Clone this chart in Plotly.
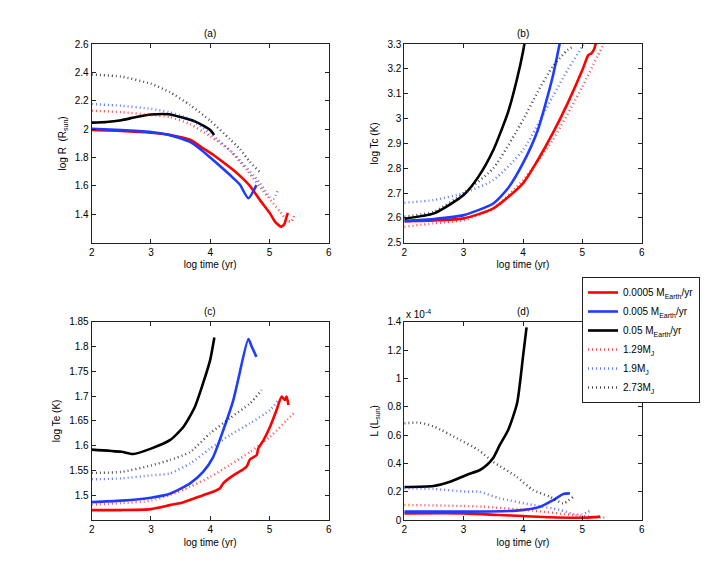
import plotly.graph_objects as go

# ---------------- data ----------------
SERIES_NAMES = ["0.0005 M<sub>Earth</sub>/yr", "0.005 M<sub>Earth</sub>/yr", "0.05 M<sub>Earth</sub>/yr",
                "1.29M<sub>J</sub>", "1.9M<sub>J</sub>", "2.73M<sub>J</sub>"]
SERIES_COLORS = ["#ff0000", "#1f3cff", "#000000", "#ff0000", "#1f3cff", "#000000"]
SERIES_DOTTED = [False, False, False, True, True, True]

# panel (a): log R (R_sun)
A_T = [
    [2.0, 2.5, 3.0, 3.3, 3.66, 3.88, 4.05, 4.17, 4.39, 4.53, 4.67, 4.84, 5.0, 5.1, 5.2, 5.25, 5.29, 5.31],
    [2.0, 2.5, 3.0, 3.32, 3.66, 3.83, 4.0, 4.165, 4.39, 4.5, 4.644, 4.78],
    [2.0, 2.25, 2.5, 2.75, 3.0, 3.3, 3.5, 3.75, 4.0, 4.065],
    [2.0, 2.5, 3.0, 3.32, 3.66, 4.0, 4.33, 4.62, 4.96, 5.18, 5.3, 5.37, 5.43],
    [2.0, 2.5, 3.0, 3.3, 3.66, 4.0, 4.39, 4.84, 5.01, 5.07, 5.15],
    [2.0, 2.5, 3.0, 3.32, 3.66, 4.0, 4.33, 4.5, 4.67, 4.84, 4.87],
]
A_Y = [
    [1.994, 1.988, 1.975, 1.96, 1.925, 1.865, 1.82, 1.783, 1.712, 1.66, 1.60, 1.50, 1.412, 1.345, 1.313, 1.33, 1.383, 1.41],
    [2.003, 1.993, 1.98, 1.958, 1.91, 1.86, 1.80, 1.74, 1.655, 1.61, 1.513, 1.606],
    [2.046, 2.05, 2.063, 2.085, 2.103, 2.105, 2.085, 2.053, 1.994, 1.959],
    [2.13, 2.12, 2.10, 2.085, 2.035, 1.95, 1.85, 1.71, 1.53, 1.418, 1.355, 1.35, 1.41],
    [2.177, 2.165, 2.143, 2.12, 2.07, 1.97, 1.83, 1.62, 1.52, 1.51, 1.575],
    [2.385, 2.37, 2.32, 2.26, 2.17, 2.06, 1.93, 1.86, 1.77, 1.70, 1.705],
]

# panel (b): log Tc (K)
B_T = [
    [2.0, 2.5, 3.0, 3.5, 4.0, 4.25, 4.5, 4.75, 5.0, 5.1, 5.15, 5.2, 5.25],
    [2.0, 2.5, 3.0, 3.5, 3.75, 4.0, 4.25, 4.5, 4.65],
    [2.0, 2.5, 3.0, 3.25, 3.5, 3.75, 3.9, 4.0, 4.05],
    [2.0, 2.5, 3.0, 3.5, 4.0, 4.5, 5.0, 5.25, 5.45],
    [2.0, 2.5, 3.0, 3.5, 4.0, 4.5, 4.75, 5.0, 5.1],
    [2.0, 2.5, 3.0, 3.5, 4.0, 4.25, 4.5, 4.75, 4.85],
]
B_Y = [
    [2.587, 2.59, 2.598, 2.638, 2.739, 2.833, 2.94, 3.06, 3.195, 3.255, 3.262, 3.28, 3.33],
    [2.587, 2.595, 2.611, 2.658, 2.72, 2.82, 2.954, 3.168, 3.34],
    [2.597, 2.618, 2.692, 2.766, 2.873, 3.027, 3.16, 3.269, 3.34],
    [2.564, 2.578, 2.591, 2.638, 2.752, 2.913, 3.128, 3.249, 3.34],
    [2.661, 2.672, 2.70, 2.752, 2.873, 3.088, 3.195, 3.29, 3.33],
    [2.605, 2.625, 2.70, 2.80, 2.994, 3.108, 3.209, 3.276, 3.29],
]

# panel (c): log Te (K)
C_T = [
    [2.0, 2.5, 3.0, 3.32, 3.55, 3.88, 4.05, 4.165, 4.22, 4.39, 4.53, 4.616, 4.67, 4.785, 4.81, 4.9,
     5.01, 5.12, 5.207, 5.26, 5.29, 5.32],
    [2.0, 2.5, 3.0, 3.32, 3.66, 3.88, 4.05, 4.22, 4.39, 4.47, 4.644, 4.7, 4.78],
    [2.0, 2.5, 2.7, 3.0, 3.32, 3.55, 3.74, 3.88, 4.0, 4.07],
    [2.0, 2.5, 3.0, 3.32, 3.66, 4.0, 4.33, 4.67, 5.01, 5.29, 5.43],
    [2.0, 2.5, 3.0, 3.32, 3.66, 4.0, 4.33, 4.67, 5.01, 5.15],
    [2.0, 2.5, 3.0, 3.32, 3.66, 4.0, 4.33, 4.67, 4.87],
]
C_Y = [
    [1.47, 1.47, 1.472, 1.48, 1.486, 1.50, 1.507, 1.514, 1.524, 1.54, 1.55, 1.558, 1.572, 1.581, 1.594, 1.611,
     1.638, 1.672, 1.699, 1.692, 1.699, 1.682],
    [1.486, 1.489, 1.495, 1.503, 1.524, 1.547, 1.577, 1.631, 1.692, 1.732, 1.815, 1.80, 1.779],
    [1.592, 1.5875, 1.583, 1.594, 1.611, 1.638, 1.678, 1.726, 1.773, 1.818],
    [1.481, 1.484, 1.489, 1.50, 1.517, 1.537, 1.561, 1.587, 1.618, 1.651, 1.668],
    [1.532, 1.534, 1.54, 1.544, 1.564, 1.594, 1.621, 1.645, 1.672, 1.692],
    [1.545, 1.547, 1.56, 1.571, 1.587, 1.625, 1.655, 1.685, 1.712],
]

# panel (d): L (L_sun), in units of 1e-4
D_T = [
    [2.0, 3.0, 3.61, 4.0, 4.45, 4.96, 5.2, 5.3],
    [2.0, 3.0, 3.89, 4.29, 4.51, 4.68, 4.79],
    [2.0, 2.49, 2.77, 3.05, 3.275, 3.39, 3.5, 3.61, 3.75, 3.9, 4.0, 4.06],
    [2.0, 3.0, 3.33, 4.17, 4.85, 5.2, 5.43],
    [2.0, 2.5, 3.05, 3.25, 3.61, 4.17, 4.62, 4.85, 5.0, 5.15],
    [2.0, 2.25, 2.5, 2.94, 3.25, 3.5, 3.89, 4.17, 4.45, 4.68, 4.85],
]
D_Y = [
    [0.047, 0.047, 0.035, 0.028, 0.019, 0.016, 0.02, 0.024],
    [0.059, 0.059, 0.066, 0.094, 0.141, 0.184, 0.188],
    [0.233, 0.24, 0.27, 0.318, 0.353, 0.388, 0.44, 0.53, 0.635, 0.824, 1.153, 1.36],
    [0.106, 0.099, 0.094, 0.066, 0.035, 0.02, 0.016],
    [0.224, 0.219, 0.20, 0.20, 0.153, 0.106, 0.071, 0.042, 0.04, 0.07],
    [0.682, 0.687, 0.66, 0.565, 0.494, 0.41, 0.306, 0.212, 0.165, 0.118, 0.165],
]

X_TICKS = [2, 3, 4, 5, 6]
A_TICKS = [1.4, 1.6, 1.8, 2.0, 2.2, 2.4, 2.6]
A_TICKTEXT = ["1.4", "1.6", "1.8", "2", "2.2", "2.4", "2.6"]
B_TICKS = [2.5, 2.6, 2.7, 2.8, 2.9, 3.0, 3.1, 3.2, 3.3]
B_TICKTEXT = ["2.5", "2.6", "2.7", "2.8", "2.9", "3", "3.1", "3.2", "3.3"]
C_TICKS = [1.5, 1.55, 1.6, 1.65, 1.7, 1.75, 1.8, 1.85]
C_TICKTEXT = ["1.5", "1.55", "1.6", "1.65", "1.7", "1.75", "1.8", "1.85"]
D_TICKS = [0, 0.2, 0.4, 0.6, 0.8, 1.0, 1.2, 1.4]
D_TICKTEXT = ["0", "0.2", "0.4", "0.6", "0.8", "1", "1.2", "1.4"]

PANEL_TITLES = ["(a)", "(b)", "(c)", "(d)"]
Y_TITLES = ["log R  (R<sub>sun</sub>)", "log Tc (K)", "log Te (K)", "L (L<sub>sun</sub>)"]
X_TITLE = "log time (yr)"

# ---------------- figure ----------------
W, H = 708, 586
FONT = "Liberation Sans, Arial, Helvetica, sans-serif"
AXC = "#222222"

fig = go.Figure()

panels = [(A_T, A_Y, "x", "y"), (B_T, B_Y, "x2", "y2"), (C_T, C_Y, "x3", "y3"), (D_T, D_Y, "x4", "y4")]
for p, (TT, YY, xa, ya) in enumerate(panels):
    for i in range(6):
        dotted = SERIES_DOTTED[i]
        fig.add_trace(go.Scatter(
            x=TT[i], y=YY[i], xaxis=xa, yaxis=ya, mode="lines",
            name=SERIES_NAMES[i], legendgroup=str(i), showlegend=(p == 0),
            line=dict(color=SERIES_COLORS[i], width=2.4 if dotted else 2.6,
                      dash="1px,3px" if dotted else "solid",
                      shape="spline", smoothing=0.6),
            opacity=0.7 if dotted else 1.0,
        ))

# axes domains in pixel terms
left_x = (91.7 / W, 328.7 / W)
right_x = (404.3 / W, 641.7 / W)
top_y = (1 - 242.7 / H, 1 - 44 / H)
bot_y = (1 - 520 / H, 1 - 321.7 / H)

def xax(domain, anchor):
    return dict(domain=domain, anchor=anchor, range=[2, 6], tickvals=X_TICKS, automargin=False,
                ticks="inside", ticklen=4, tickcolor=AXC, showline=True, linecolor=AXC,
                linewidth=1, mirror="allticks", showgrid=False, zeroline=False,
                tickfont=dict(size=10, color="black", family=FONT),
                title=dict(text=X_TITLE, font=dict(size=10, color="black", family=FONT), standoff=4))

def yax(domain, anchor, rng, tv, tt, title):
    return dict(domain=domain, anchor=anchor, range=rng, tickvals=tv, ticktext=tt, automargin=False,
                ticks="inside", ticklen=4, tickcolor=AXC, showline=True, linecolor=AXC,
                linewidth=1, mirror="allticks", showgrid=False, zeroline=False,
                tickfont=dict(size=10, color="black", family=FONT),
                title=dict(text=title, font=dict(size=10, color="black", family=FONT), standoff=6))

fig.update_layout(
    width=W, height=H, margin=dict(l=0, r=0, t=0, b=0, autoexpand=False),
    paper_bgcolor="white", plot_bgcolor="white",
    font=dict(family=FONT, size=10, color="black"),
    xaxis=xax(left_x, "y"), yaxis=yax(top_y, "x", [1.2, 2.6], A_TICKS, A_TICKTEXT, Y_TITLES[0]),
    xaxis2=xax(right_x, "y2"), yaxis2=yax(top_y, "x2", [2.5, 3.3], B_TICKS, B_TICKTEXT, Y_TITLES[1]),
    xaxis3=xax(left_x, "y3"), yaxis3=yax(bot_y, "x3", [1.45, 1.85], C_TICKS, C_TICKTEXT, Y_TITLES[2]),
    xaxis4=xax(right_x, "y4"), yaxis4=yax(bot_y, "x4", [0, 1.4], D_TICKS, D_TICKTEXT, Y_TITLES[3]),
    legend=dict(x=700 / W, y=1 - 277 / H, xanchor="right", yanchor="top",
                bgcolor="white", bordercolor=AXC, borderwidth=1,
                font=dict(size=10, color="black", family=FONT), tracegroupgap=0,
                itemwidth=30),
)

# panel titles
title_pos = [(left_x, top_y), (right_x, top_y), (left_x, bot_y), (right_x, bot_y)]
for t, (dx, dy) in zip(PANEL_TITLES, title_pos):
    fig.add_annotation(x=(dx[0] + dx[1]) / 2, y=dy[1] + 10 / H, xref="paper", yref="paper",
                       text=t, showarrow=False, xanchor="center", yanchor="middle",
                       font=dict(size=10, color="black", family=FONT))

# exponent label for panel (d)
fig.add_annotation(x=right_x[0], y=bot_y[1] + 8 / H, xref="paper", yref="paper",
                   text="x 10<sup>-4</sup>", showarrow=False, xanchor="left", yanchor="middle",
                   font=dict(size=10, color="black", family=FONT))

fig.write_html("out.html", config={"displayModeBar": False},
               post_script="document.body.style.margin='0px';")
